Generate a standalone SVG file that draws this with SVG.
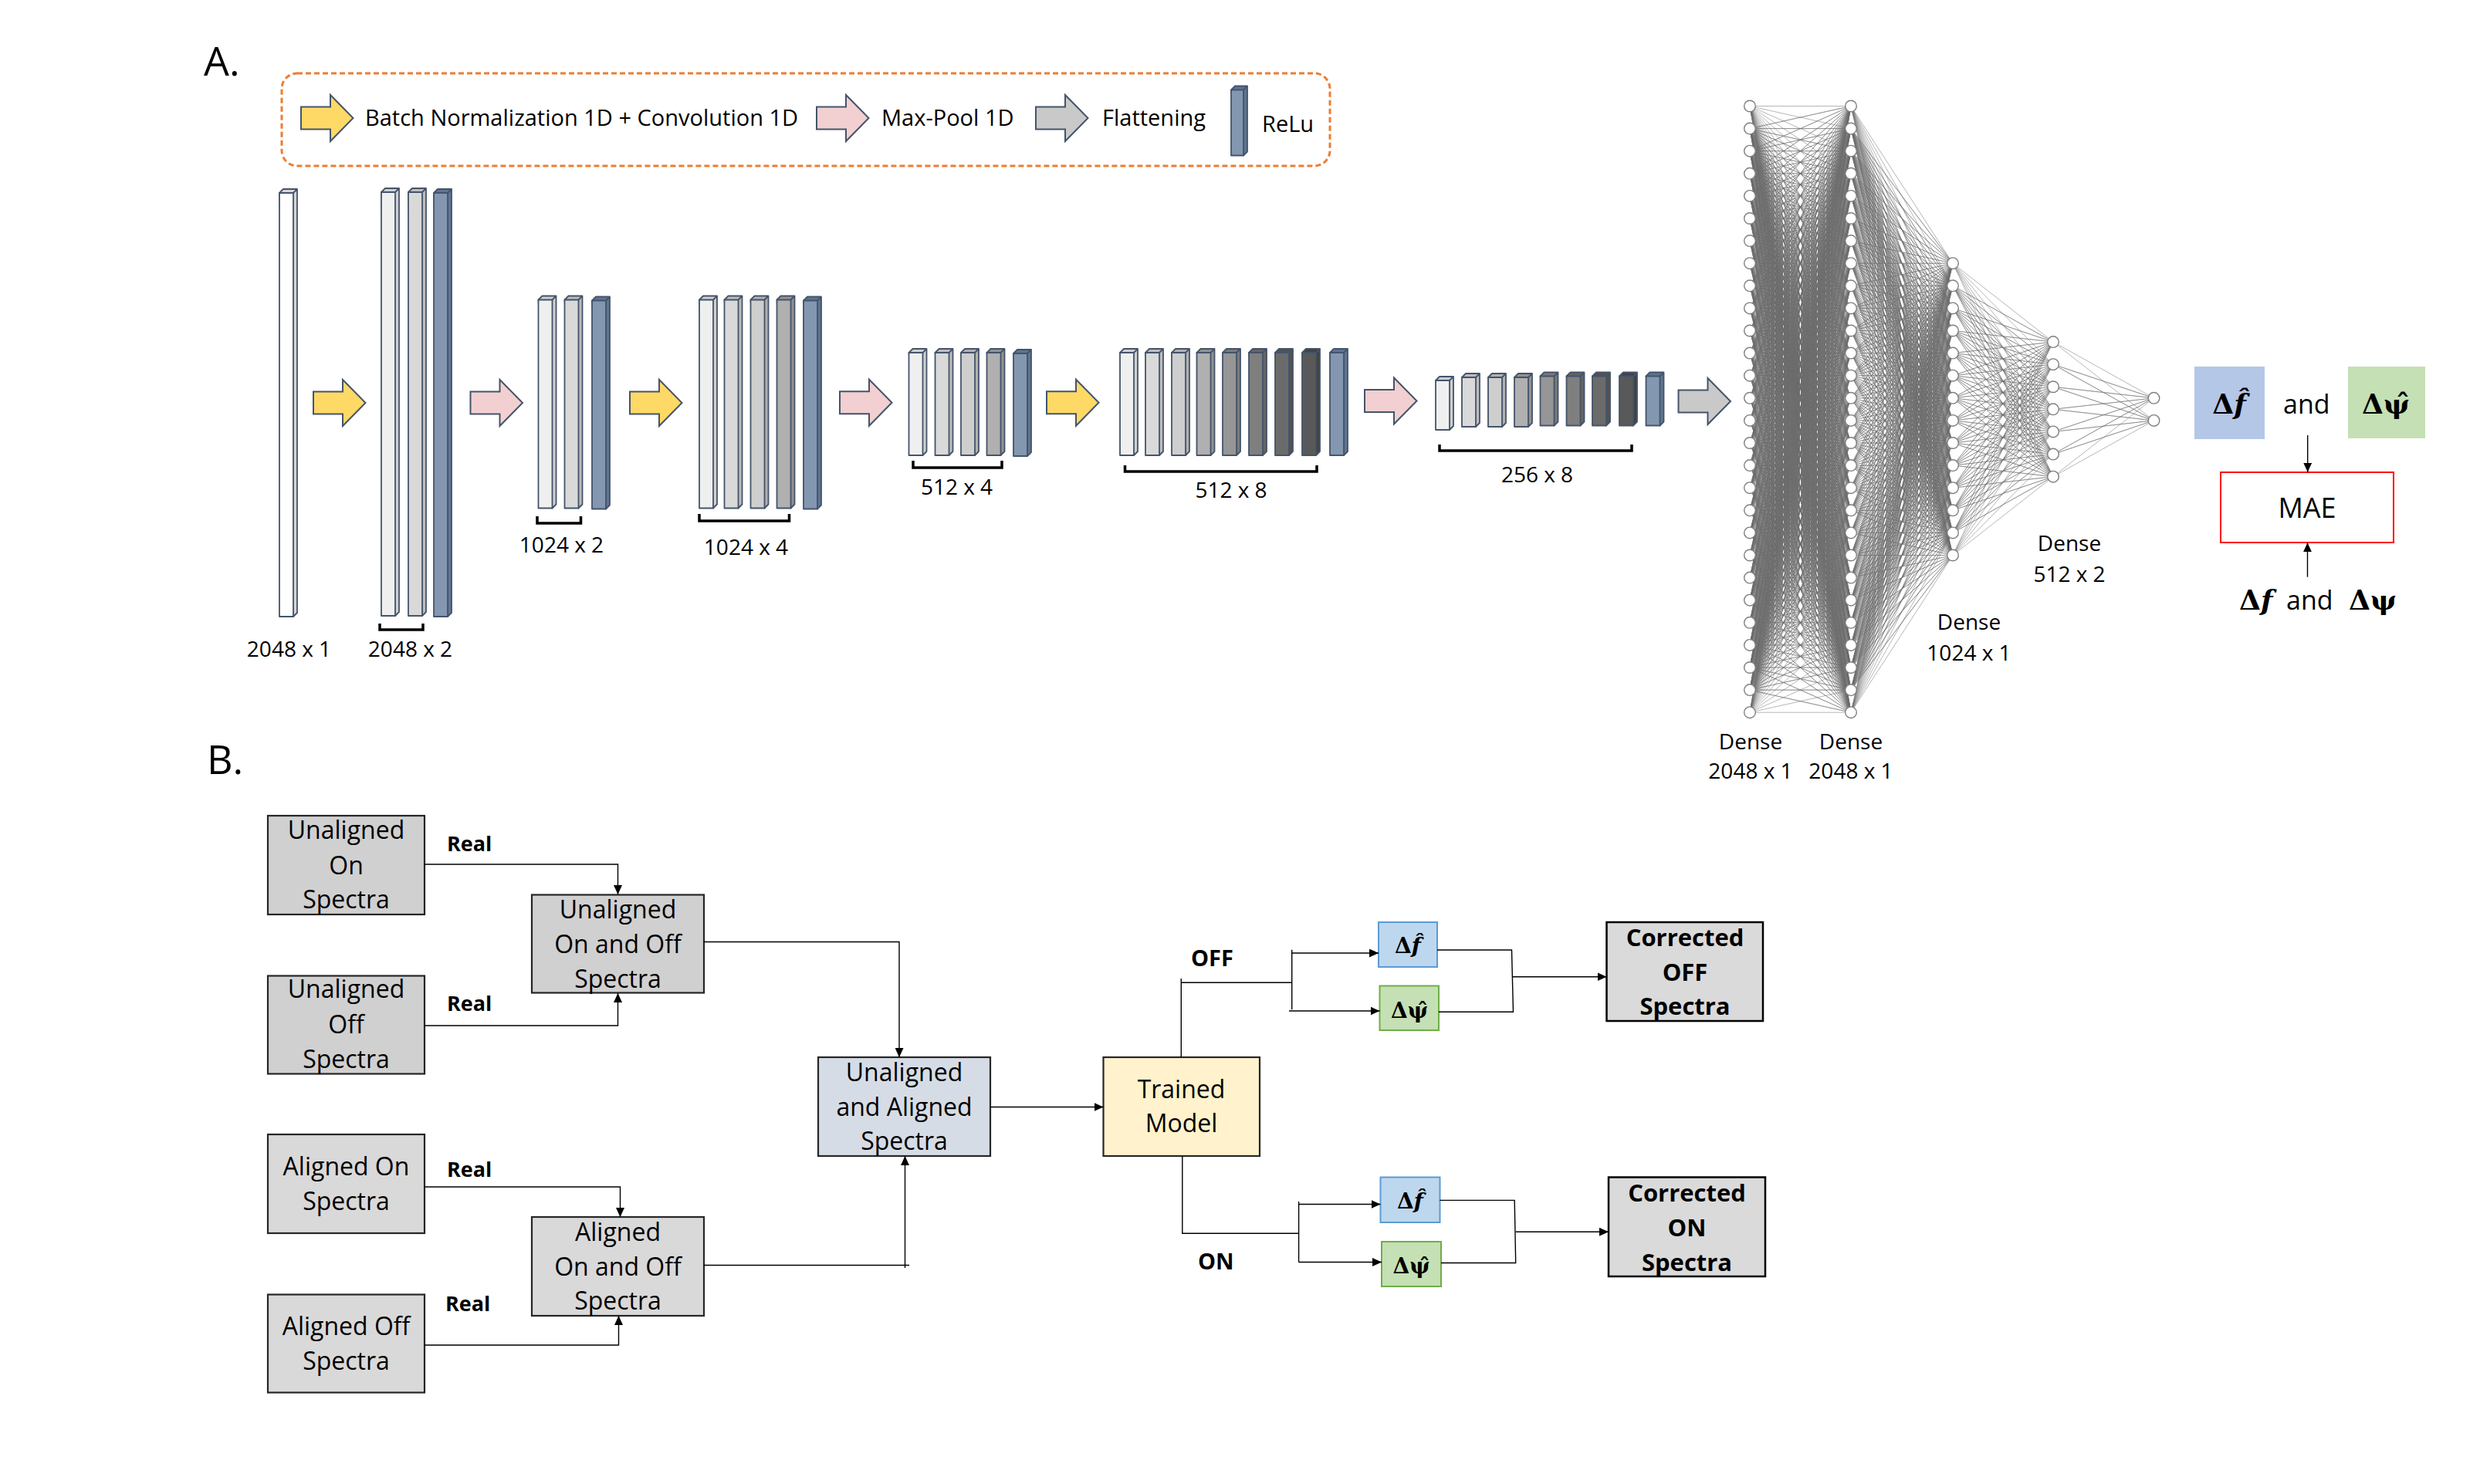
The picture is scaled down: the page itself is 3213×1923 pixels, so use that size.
<svg xmlns="http://www.w3.org/2000/svg" width="3213" height="1923" viewBox="0 0 3213 1923">
<defs>
<style>
.t{font-family:'Open Sans','Liberation Sans',Arial,sans-serif;fill:#000}
.m{font-family:'DejaVu Serif','Liberation Serif',serif;font-weight:700;fill:#000}
.hd{font-size:52px}
.lg{font-size:29px}
.dm{font-size:28px;text-anchor:middle}
.bx{font-size:32px;text-anchor:middle}
.bd{font-size:31px;font-weight:700;text-anchor:middle}
.lb{font-size:29px;font-weight:700}
.rl{font-size:27px;font-weight:700}
.cs{stroke:#44546A;stroke-width:1.8;stroke-linejoin:round}
.ba{stroke:#44546A;stroke-width:2}
.br{fill:none;stroke:#000;stroke-width:3.5}
.nb{stroke:#262626;stroke-width:2.2}
.cn{fill:none;stroke:#000;stroke-width:1.4}
.ar{marker-end:url(#ah)}
.f0{fill:#fff}.s0{fill:#d6d6d6}
.f1{fill:#efefef}.s1{fill:#cfcfcf}
.f2{fill:#d9d9d9}.s2{fill:#bcbcbc}
.f3{fill:#cecece}.s3{fill:#b0b0b0}
.f4{fill:#b0b0b0}.s4{fill:#929292}
.f5{fill:#969696}.s5{fill:#7a7a7a}
.f6{fill:#7f7f7f}.s6{fill:#646464}
.f7{fill:#6b6b6b}.s7{fill:#525252}
.f8{fill:#595959}.s8{fill:#434343}
.fb{fill:#8497b0}.sb{fill:#5f7491}
</style>
<marker id="ah" viewBox="0 0 12 11" refX="12" refY="5.5" markerWidth="12" markerHeight="11" markerUnits="userSpaceOnUse" orient="auto"><path d="M0 0L12 5.5L0 11Z" fill="#000"/></marker>
<path id="blk" d="M0 -14.5H38V-30L67.5 0L38 30V14.5H0Z"/>
<circle id="nd" r="7.3" fill="#fff" stroke="#7f7f7f" stroke-width="1.4"/>
<g id="c7"><use href="#nd"/><use href="#nd" y="29.1"/><use href="#nd" y="58.2"/><use href="#nd" y="87.3"/><use href="#nd" y="116.4"/><use href="#nd" y="145.5"/><use href="#nd" y="174.6"/></g>
<g id="c14"><use href="#c7"/><use href="#c7" y="203.7"/></g>
<g id="c28"><use href="#c14"/><use href="#c14" y="407.4"/></g>
</defs>
<rect width="3213" height="1923" fill="#fff"/>

<text class="t hd" x="264" y="98">A.</text>
<text class="t hd" x="268" y="1003">B.</text>

<g id="legend">
<rect x="365" y="95" width="1358" height="120" rx="20" fill="none" stroke="#ED7D31" stroke-width="3" stroke-dasharray="7 4"/>
<use href="#blk" x="390" y="153" class="ba" fill="#FFD966"/>
<text class="t lg" x="473" y="163">Batch Normalization 1D + Convolution 1D</text>
<use href="#blk" x="1058" y="153" class="ba" fill="#F2D0D1"/>
<text class="t lg" x="1142" y="163">Max-Pool 1D</text>
<use href="#blk" x="1342" y="153" class="ba" fill="#C9C9C9"/>
<text class="t lg" x="1428" y="163">Flattening</text>
<path class="cs sb" d="M1595 116.5l5 -5h16v85l-5 5zm16 0l5 -5"/>
<rect class="cs fb" x="1595" y="116.5" width="16" height="85"/>
<text class="t lg" x="1635" y="171">ReLu</text>
</g>

<g id="input-2048x1">
<path class="cs s0" d="M362 250l5 -5h18v549l-5 5zm18 0l5 -5"/><rect class="cs f0" x="362" y="250" width="18" height="549"/>
<text class="t dm" x="374.5" y="851">2048 x 1</text>
</g>
<g id="conv-2048x2">
<path class="cs s1" d="M494 249l5 -5h18v549l-5 5zm18 0l5 -5"/><rect class="cs f1" x="494" y="249" width="18" height="549"/>
<path class="cs s2" d="M529 249l5 -5h18v549l-5 5zm18 0l5 -5"/><rect class="cs f2" x="529" y="249" width="18" height="549"/>
<path class="cs sb" d="M562 250l5 -5h18v549l-5 5zm18 0l5 -5"/><rect class="cs fb" x="562" y="250" width="18" height="549"/>
<path class="br" d="M492 808V816H548V808"/>
<text class="t dm" x="531.5" y="851">2048 x 2</text>
</g>
<g id="pool-1024x2">
<path class="cs s1" d="M697.5 388.5l5 -5h18v270l-5 5zm18 0l5 -5"/><rect class="cs f1" x="697.5" y="388.5" width="18" height="270"/>
<path class="cs s2" d="M731.5 388.5l5 -5h18v270l-5 5zm18 0l5 -5"/><rect class="cs f2" x="731.5" y="388.5" width="18" height="270"/>
<path class="cs sb" d="M767 389.5l5 -5h18v270l-5 5zm18 0l5 -5"/><rect class="cs fb" x="767" y="389.5" width="18" height="270"/>
<path class="br" d="M696 669V678H752.5V669"/>
<text class="t dm" x="727.5" y="716">1024 x 2</text>
</g>
<g id="conv-1024x4">
<path class="cs s1" d="M906 388.5l5 -5h18v270l-5 5zm18 0l5 -5"/><rect class="cs f1" x="906" y="388.5" width="18" height="270"/>
<path class="cs s2" d="M938.5 388.5l5 -5h18v270l-5 5zm18 0l5 -5"/><rect class="cs f2" x="938.5" y="388.5" width="18" height="270"/>
<path class="cs s3" d="M972.5 388.5l5 -5h18v270l-5 5zm18 0l5 -5"/><rect class="cs f3" x="972.5" y="388.5" width="18" height="270"/>
<path class="cs s4" d="M1006.5 388.5l5 -5h18v270l-5 5zm18 0l5 -5"/><rect class="cs f4" x="1006.5" y="388.5" width="18" height="270"/>
<path class="cs sb" d="M1041 389.5l5 -5h18v270l-5 5zm18 0l5 -5"/><rect class="cs fb" x="1041" y="389.5" width="18" height="270"/>
<path class="br" d="M906 666V675H1022.5V666"/>
<text class="t dm" x="966.5" y="719">1024 x 4</text>
</g>
<g id="pool-512x4">
<path class="cs s1" d="M1177.5 457l5 -5h18v133l-5 5zm18 0l5 -5"/><rect class="cs f1" x="1177.5" y="457" width="18" height="133"/>
<path class="cs s2" d="M1211.5 457l5 -5h18v133l-5 5zm18 0l5 -5"/><rect class="cs f2" x="1211.5" y="457" width="18" height="133"/>
<path class="cs s3" d="M1245 457l5 -5h18v133l-5 5zm18 0l5 -5"/><rect class="cs f3" x="1245" y="457" width="18" height="133"/>
<path class="cs s4" d="M1278.5 457l5 -5h18v133l-5 5zm18 0l5 -5"/><rect class="cs f4" x="1278.5" y="457" width="18" height="133"/>
<path class="cs sb" d="M1313 458l5 -5h18v133l-5 5zm18 0l5 -5"/><rect class="cs fb" x="1313" y="458" width="18" height="133"/>
<path class="br" d="M1183 597V606H1298V597"/>
<text class="t dm" x="1239.5" y="641">512 x 4</text>
</g>
<g id="conv-512x8">
<path class="cs s1" d="M1451 457l5 -5h18v133l-5 5zm18 0l5 -5"/><rect class="cs f1" x="1451" y="457" width="18" height="133"/>
<path class="cs s2" d="M1484 457l5 -5h18v133l-5 5zm18 0l5 -5"/><rect class="cs f2" x="1484" y="457" width="18" height="133"/>
<path class="cs s3" d="M1518 457l5 -5h18v133l-5 5zm18 0l5 -5"/><rect class="cs f3" x="1518" y="457" width="18" height="133"/>
<path class="cs s4" d="M1550.5 457l5 -5h18v133l-5 5zm18 0l5 -5"/><rect class="cs f4" x="1550.5" y="457" width="18" height="133"/>
<path class="cs s5" d="M1584 457l5 -5h18v133l-5 5zm18 0l5 -5"/><rect class="cs f5" x="1584" y="457" width="18" height="133"/>
<path class="cs s6" d="M1618 457l5 -5h18v133l-5 5zm18 0l5 -5"/><rect class="cs f6" x="1618" y="457" width="18" height="133"/>
<path class="cs s7" d="M1652 457l5 -5h18v133l-5 5zm18 0l5 -5"/><rect class="cs f7" x="1652" y="457" width="18" height="133"/>
<path class="cs s8" d="M1687 457l5 -5h18v133l-5 5zm18 0l5 -5"/><rect class="cs f8" x="1687" y="457" width="18" height="133"/>
<path class="cs sb" d="M1723 457l5 -5h18v133l-5 5zm18 0l5 -5"/><rect class="cs fb" x="1723" y="457" width="18" height="133"/>
<path class="br" d="M1457.5 603V611H1706V603"/>
<text class="t dm" x="1595" y="645">512 x 8</text>
</g>
<g id="pool-256x8">
<path class="cs s1" d="M1860 493l5 -5h18v64l-5 5zm18 0l5 -5"/><rect class="cs f1" x="1860" y="493" width="18" height="64"/>
<path class="cs s2" d="M1894 489l5 -5h18v64l-5 5zm18 0l5 -5"/><rect class="cs f2" x="1894" y="489" width="18" height="64"/>
<path class="cs s3" d="M1928 489l5 -5h18v64l-5 5zm18 0l5 -5"/><rect class="cs f3" x="1928" y="489" width="18" height="64"/>
<path class="cs s4" d="M1962 489l5 -5h18v64l-5 5zm18 0l5 -5"/><rect class="cs f4" x="1962" y="489" width="18" height="64"/>
<path class="cs s5" d="M1995.5 487.5l5 -5h18v64l-5 5zm18 0l5 -5"/><rect class="cs f5" x="1995.5" y="487.5" width="18" height="64"/>
<path class="cs s6" d="M2029.5 487.5l5 -5h18v64l-5 5zm18 0l5 -5"/><rect class="cs f6" x="2029.5" y="487.5" width="18" height="64"/>
<path class="cs s7" d="M2063 487.5l5 -5h18v64l-5 5zm18 0l5 -5"/><rect class="cs f7" x="2063" y="487.5" width="18" height="64"/>
<path class="cs s8" d="M2098 487.5l5 -5h18v64l-5 5zm18 0l5 -5"/><rect class="cs f8" x="2098" y="487.5" width="18" height="64"/>
<path class="cs sb" d="M2132.5 487.5l5 -5h18v64l-5 5zm18 0l5 -5"/><rect class="cs fb" x="2132.5" y="487.5" width="18" height="64"/>
<path class="br" d="M1865 576V584H2114V576"/>
<text class="t dm" x="1991.5" y="625">256 x 8</text>
</g>

<g id="stage-arrows">
<use href="#blk" x="406" y="522" class="ba" fill="#FFD966"/>
<use href="#blk" x="609.5" y="522" class="ba" fill="#F2D0D1"/>
<use href="#blk" x="816" y="522" class="ba" fill="#FFD966"/>
<use href="#blk" x="1088" y="521.7" class="ba" fill="#F2D0D1"/>
<use href="#blk" x="1356" y="521.7" class="ba" fill="#FFD966"/>
<use href="#blk" x="1768" y="519.5" class="ba" fill="#F2D0D1"/>
<use href="#blk" x="2174.5" y="520" class="ba" fill="#C9C9C9"/>
</g>

<g id="dense-edges" fill="none" stroke="#6e6e6e" stroke-opacity="0.5" stroke-width="1" stroke-linejoin="round">
<g transform="translate(2267 137.5)">
<path id="f12" vector-effect="non-scaling-stroke" d="M0 0L131 0 0 29.1 131 0 0 58.2 131 0 0 87.3 131 0 0 116.4 131 0 0 145.5 131 0 0 174.6 131 0 0 203.7 131 0 0 232.8 131 0 0 261.9 131 0 0 291 131 0 0 320.1 131 0 0 349.2 131 0 0 378.3 131 0 0 407.4 131 0 0 436.5 131 0 0 465.6 131 0 0 494.7 131 0 0 523.8 131 0 0 552.9 131 0 0 582 131 0 0 611.1 131 0 0 640.2 131 0 0 669.3 131 0 0 698.4 131 0 0 727.5 131 0 0 756.6 131 0 0 785.7"/>
<use href="#f12" transform="matrix(1 .2221 0 1 0 0)"/><use href="#f12" transform="matrix(1 .4443 0 1 0 0)"/><use href="#f12" transform="matrix(1 .6664 0 1 0 0)"/><use href="#f12" transform="matrix(1 .8885 0 1 0 0)"/><use href="#f12" transform="matrix(1 1.1107 0 1 0 0)"/><use href="#f12" transform="matrix(1 1.3328 0 1 0 0)"/><use href="#f12" transform="matrix(1 1.555 0 1 0 0)"/><use href="#f12" transform="matrix(1 1.7771 0 1 0 0)"/><use href="#f12" transform="matrix(1 1.9992 0 1 0 0)"/><use href="#f12" transform="matrix(1 2.2214 0 1 0 0)"/><use href="#f12" transform="matrix(1 2.4435 0 1 0 0)"/><use href="#f12" transform="matrix(1 2.6656 0 1 0 0)"/><use href="#f12" transform="matrix(1 2.8878 0 1 0 0)"/><use href="#f12" transform="matrix(1 3.1099 0 1 0 0)"/><use href="#f12" transform="matrix(1 3.3321 0 1 0 0)"/><use href="#f12" transform="matrix(1 3.5542 0 1 0 0)"/><use href="#f12" transform="matrix(1 3.7763 0 1 0 0)"/><use href="#f12" transform="matrix(1 3.9985 0 1 0 0)"/><use href="#f12" transform="matrix(1 4.2206 0 1 0 0)"/><use href="#f12" transform="matrix(1 4.4427 0 1 0 0)"/><use href="#f12" transform="matrix(1 4.6649 0 1 0 0)"/><use href="#f12" transform="matrix(1 4.887 0 1 0 0)"/><use href="#f12" transform="matrix(1 5.1092 0 1 0 0)"/><use href="#f12" transform="matrix(1 5.3313 0 1 0 0)"/><use href="#f12" transform="matrix(1 5.5534 0 1 0 0)"/><use href="#f12" transform="matrix(1 5.7756 0 1 0 0)"/><use href="#f12" transform="matrix(1 5.9977 0 1 0 0)"/>
</g>
<g transform="translate(2398 137.5)">
<path id="f23" vector-effect="non-scaling-stroke" d="M0 0L132 203.7 0 29.1 132 203.7 0 58.2 132 203.7 0 87.3 132 203.7 0 116.4 132 203.7 0 145.5 132 203.7 0 174.6 132 203.7 0 203.7 132 203.7 0 232.8 132 203.7 0 261.9 132 203.7 0 291 132 203.7 0 320.1 132 203.7 0 349.2 132 203.7 0 378.3 132 203.7 0 407.4 132 203.7 0 436.5 132 203.7 0 465.6 132 203.7 0 494.7 132 203.7 0 523.8 132 203.7 0 552.9 132 203.7 0 582 132 203.7 0 611.1 132 203.7 0 640.2 132 203.7 0 669.3 132 203.7 0 698.4 132 203.7 0 727.5 132 203.7 0 756.6 132 203.7 0 785.7"/>
<use href="#f23" transform="matrix(1 .2205 0 1 0 0)"/><use href="#f23" transform="matrix(1 .4409 0 1 0 0)"/><use href="#f23" transform="matrix(1 .6614 0 1 0 0)"/><use href="#f23" transform="matrix(1 .8818 0 1 0 0)"/><use href="#f23" transform="matrix(1 1.1023 0 1 0 0)"/><use href="#f23" transform="matrix(1 1.3227 0 1 0 0)"/><use href="#f23" transform="matrix(1 1.5432 0 1 0 0)"/><use href="#f23" transform="matrix(1 1.7636 0 1 0 0)"/><use href="#f23" transform="matrix(1 1.9841 0 1 0 0)"/><use href="#f23" transform="matrix(1 2.2045 0 1 0 0)"/><use href="#f23" transform="matrix(1 2.425 0 1 0 0)"/><use href="#f23" transform="matrix(1 2.6455 0 1 0 0)"/><use href="#f23" transform="matrix(1 2.8659 0 1 0 0)"/>
</g>
<g transform="translate(2530 341.2)">
<path id="f34" vector-effect="non-scaling-stroke" d="M0 0L130 101.85 0 29.1 130 101.85 0 58.2 130 101.85 0 87.3 130 101.85 0 116.4 130 101.85 0 145.5 130 101.85 0 174.6 130 101.85 0 203.7 130 101.85 0 232.8 130 101.85 0 261.9 130 101.85 0 291 130 101.85 0 320.1 130 101.85 0 349.2 130 101.85 0 378.3"/>
<use href="#f34" transform="matrix(1 .2238 0 1 0 0)"/><use href="#f34" transform="matrix(1 .4477 0 1 0 0)"/><use href="#f34" transform="matrix(1 .6715 0 1 0 0)"/><use href="#f34" transform="matrix(1 .8954 0 1 0 0)"/><use href="#f34" transform="matrix(1 1.1192 0 1 0 0)"/><use href="#f34" transform="matrix(1 1.3431 0 1 0 0)"/>
</g>
<g transform="translate(2660 443.05)">
<path id="f45" vector-effect="non-scaling-stroke" d="M0 0L130.5 72.75 0 29.1 130.5 72.75 0 58.2 130.5 72.75 0 87.3 130.5 72.75 0 116.4 130.5 72.75 0 145.5 130.5 72.75 0 174.6"/>
<use href="#f45" transform="matrix(1 .223 0 1 0 0)"/>
</g>
</g>

<g id="dense-1">
<use href="#c28" x="2267" y="137.5"/>
<text class="t dm" x="2268" y="971">Dense</text>
<text class="t dm" x="2268" y="1009">2048 x 1</text>
</g>
<g id="dense-2">
<use href="#c28" x="2398" y="137.5"/>
<text class="t dm" x="2398" y="971">Dense</text>
<text class="t dm" x="2398" y="1009">2048 x 1</text>
</g>
<g id="dense-3">
<use href="#c14" x="2530" y="341.2"/>
<text class="t dm" x="2551" y="816">Dense</text>
<text class="t dm" x="2551" y="856">1024 x 1</text>
</g>
<g id="dense-4">
<use href="#c7" x="2660" y="443.05"/>
<text class="t dm" x="2681" y="714">Dense</text>
<text class="t dm" x="2681" y="754">512 x 2</text>
</g>
<g id="output">
<use href="#nd" x="2790.5" y="515.8"/>
<use href="#nd" x="2790.5" y="544.9"/>
</g>

<g id="pred">
<rect x="2843" y="475" width="91" height="94" fill="#B4C7E7"/>
<text class="m" x="2888" y="536" font-size="36" text-anchor="middle">Δ<tspan font-style="italic">f̂</tspan></text>
<text class="t" x="2958" y="536" font-size="34">and</text>
<rect x="3042" y="475" width="100" height="93" fill="#C5E0B4"/>
<text class="m" x="3091" y="536" font-size="36" text-anchor="middle">Δψ̂</text>
</g>
<g id="mae">
<rect x="2877" y="612" width="224" height="91" fill="#fff" stroke="#FF0000" stroke-width="2"/>
<text class="t" x="2989" y="671" font-size="36" text-anchor="middle">MAE</text>
</g>
<g id="truth">
<text class="m" x="2901" y="790" font-size="36">Δ<tspan font-style="italic">f</tspan></text>
<text class="t" x="2962" y="790" font-size="34">and</text>
<text class="m" x="3043" y="790" font-size="36">Δψ</text>
</g>

<g id="unaligned-on">
<rect class="nb" x="347" y="1057" width="203" height="128" fill="#D0D0D0"/>
<text class="t bx" x="448.5" y="1087">Unaligned</text>
<text class="t bx" x="448.5" y="1133">On</text>
<text class="t bx" x="448.5" y="1177">Spectra</text>
</g>
<g id="unaligned-off">
<rect class="nb" x="347" y="1264.5" width="203" height="127" fill="#D0D0D0"/>
<text class="t bx" x="448.5" y="1293">Unaligned</text>
<text class="t bx" x="448.5" y="1339">Off</text>
<text class="t bx" x="448.5" y="1384">Spectra</text>
</g>
<g id="aligned-on">
<rect class="nb" x="347" y="1470" width="203" height="128" fill="#D9D9D9"/>
<text class="t bx" x="448.5" y="1523">Aligned On</text>
<text class="t bx" x="448.5" y="1568">Spectra</text>
</g>
<g id="aligned-off">
<rect class="nb" x="347" y="1677.5" width="203" height="127" fill="#D9D9D9"/>
<text class="t bx" x="448.5" y="1730">Aligned Off</text>
<text class="t bx" x="448.5" y="1775">Spectra</text>
</g>
<g id="unaligned-onoff">
<rect class="nb" x="689" y="1159.5" width="223" height="127" fill="#D0D0D0"/>
<text class="t bx" x="800.5" y="1190">Unaligned</text>
<text class="t bx" x="800.5" y="1235">On and Off</text>
<text class="t bx" x="800.5" y="1280">Spectra</text>
</g>
<g id="aligned-onoff">
<rect class="nb" x="689" y="1577" width="223" height="128" fill="#D9D9D9"/>
<text class="t bx" x="800.5" y="1608">Aligned</text>
<text class="t bx" x="800.5" y="1653">On and Off</text>
<text class="t bx" x="800.5" y="1697">Spectra</text>
</g>
<g id="combined">
<rect class="nb" x="1060" y="1370" width="223" height="128" fill="#D6DCE5"/>
<text class="t bx" x="1171.5" y="1401">Unaligned</text>
<text class="t bx" x="1171.5" y="1446">and Aligned</text>
<text class="t bx" x="1171.5" y="1490">Spectra</text>
</g>
<g id="trained-model">
<rect class="nb" x="1429.5" y="1370" width="202.5" height="128" fill="#FFF2CC"/>
<text class="t bx" x="1530.5" y="1423">Trained</text>
<text class="t bx" x="1530.5" y="1467">Model</text>
</g>
<g id="off-df">
<rect x="1786" y="1195" width="76" height="58" fill="#BDD7EE" stroke="#5B9BD5" stroke-width="2"/>
<text class="m" x="1824" y="1235" font-size="28" text-anchor="middle">Δ<tspan font-style="italic">f̂</tspan></text>
</g>
<g id="off-dpsi">
<rect x="1787.5" y="1277.5" width="76.5" height="57.5" fill="#C5E0B4" stroke="#70AD47" stroke-width="2"/>
<text class="m" x="1826" y="1319" font-size="28" text-anchor="middle">Δψ̂</text>
</g>
<g id="on-df">
<rect x="1788.5" y="1525.5" width="77" height="58.5" fill="#BDD7EE" stroke="#5B9BD5" stroke-width="2"/>
<text class="m" x="1827" y="1566" font-size="28" text-anchor="middle">Δ<tspan font-style="italic">f̂</tspan></text>
</g>
<g id="on-dpsi">
<rect x="1790" y="1609" width="77" height="58" fill="#C5E0B4" stroke="#70AD47" stroke-width="2"/>
<text class="m" x="1828.5" y="1650" font-size="28" text-anchor="middle">Δψ̂</text>
</g>
<g id="corrected-off">
<rect x="2081.5" y="1195" width="202.5" height="128" fill="#DADADA" stroke="#000" stroke-width="2.5"/>
<text class="t bd" x="2183" y="1226">Corrected</text>
<text class="t bd" x="2183" y="1271">OFF</text>
<text class="t bd" x="2183" y="1315">Spectra</text>
</g>
<g id="corrected-on">
<rect x="2084" y="1525.5" width="203" height="128.5" fill="#DADADA" stroke="#000" stroke-width="2.5"/>
<text class="t bd" x="2185.5" y="1557">Corrected</text>
<text class="t bd" x="2185.5" y="1602">ON</text>
<text class="t bd" x="2185.5" y="1647">Spectra</text>
</g>

<g id="connectors">
<path class="cn ar" d="M550 1120H800.5V1159"/>
<path class="cn ar" d="M550 1329H800.5V1287"/>
<path class="cn ar" d="M550 1538H803.5V1577"/>
<path class="cn ar" d="M550 1743H801.5V1705"/>
<path class="cn ar" d="M912 1220.5H1165V1370"/>
<path class="cn" d="M912 1639.5H1178"/>
<path class="cn ar" d="M1172.5 1643V1498"/>
<path class="cn ar" d="M1283 1434.5H1429.5"/>
<path class="cn" d="M1530.3 1370V1268M1530.3 1273.3H1673.7M1673.7 1230.7V1308.3"/>
<path class="cn ar" d="M1673.7 1235H1786"/>
<path class="cn ar" d="M1670 1310H1787.5"/>
<path class="cn" d="M1862 1231H1958.5L1960.5 1311.3H1864"/>
<path class="cn ar" d="M1960 1265.7H2081.5"/>
<path class="cn" d="M1531.8 1498V1598.3H1682.6M1682.6 1557V1635.5"/>
<path class="cn ar" d="M1682.6 1560.5H1788.5"/>
<path class="cn ar" d="M1682.6 1635.5H1790"/>
<path class="cn" d="M1865.3 1555.4H1962.2L1963.7 1636.5H1867"/>
<path class="cn ar" d="M1963.7 1596.3H2084"/>
<path class="cn ar" d="M2989.7 564V611.7"/>
<path class="cn ar" d="M2989.5 747.7V703.3"/>
</g>

<g id="labels">
<text class="t rl" x="579" y="1103">Real</text>
<text class="t rl" x="579" y="1310">Real</text>
<text class="t rl" x="579" y="1525">Real</text>
<text class="t rl" x="577" y="1699">Real</text>
<text class="t lb" x="1543" y="1252">OFF</text>
<text class="t lb" x="1552" y="1645">ON</text>
</g>
</svg>
